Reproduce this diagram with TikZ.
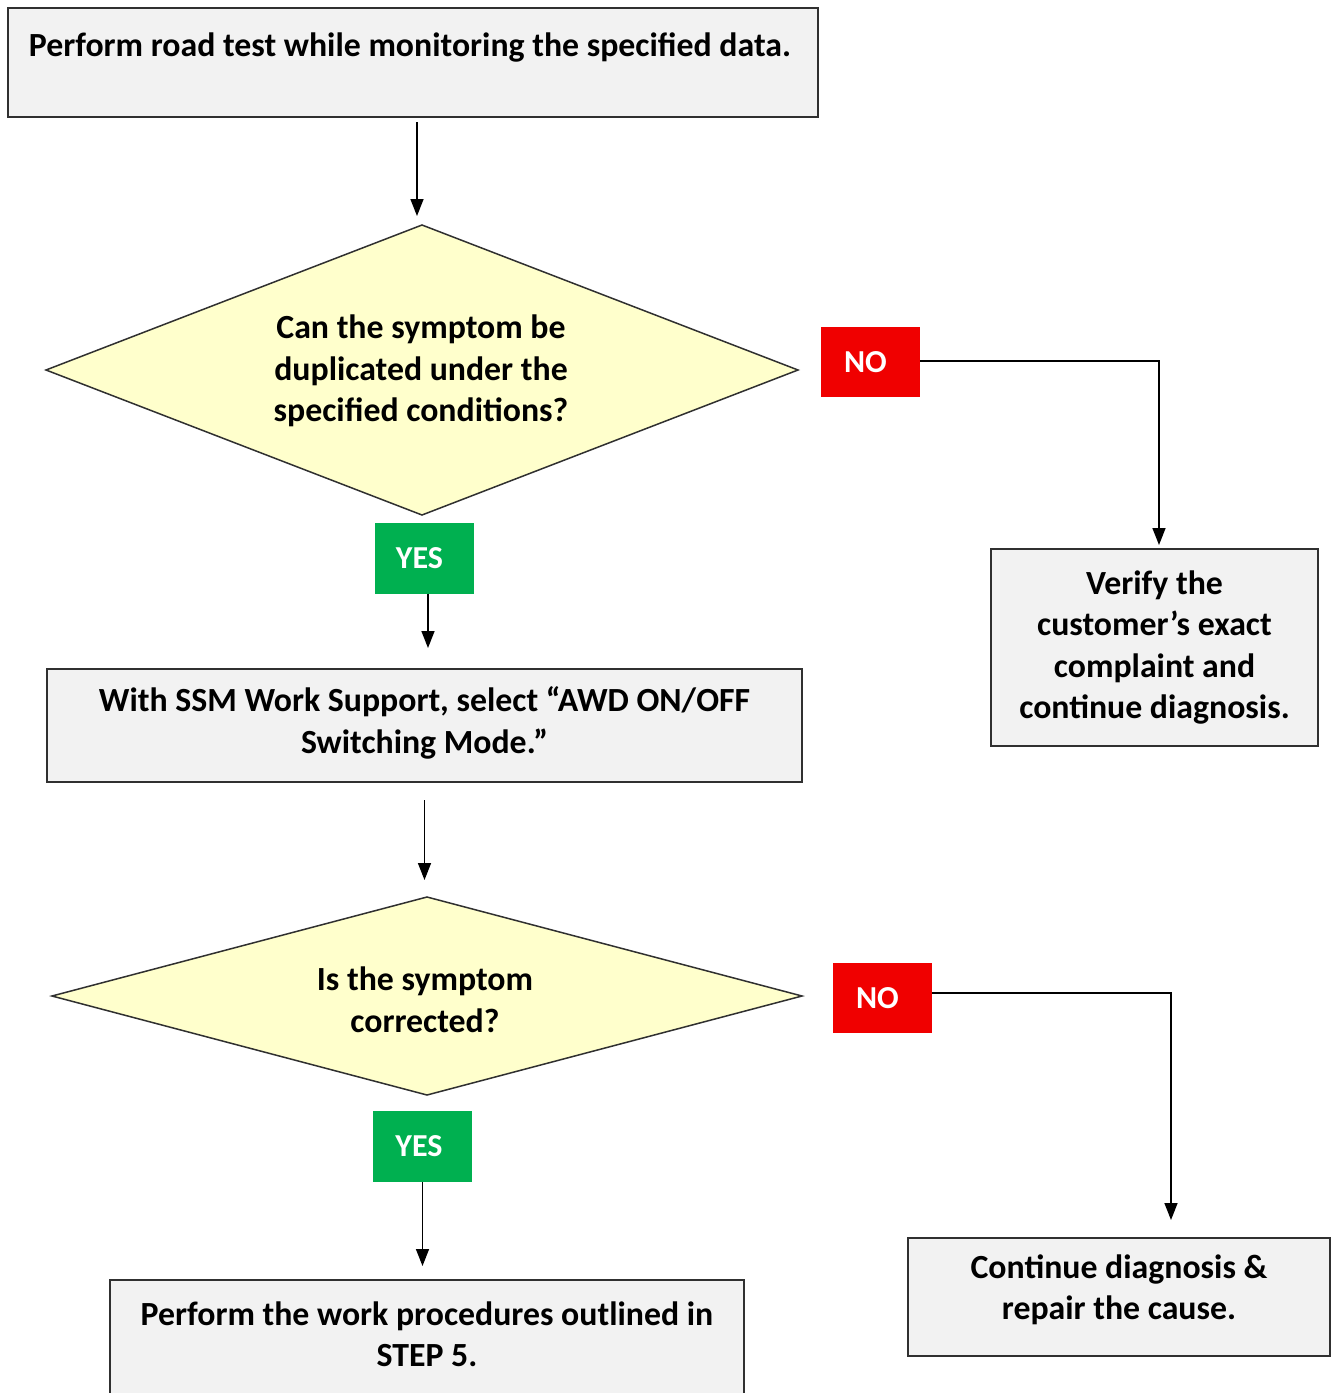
\documentclass[tikz,border=0pt]{standalone}
\usepackage{fontspec}
\setmainfont{Carlito}
\usetikzlibrary{shapes.geometric,arrows.meta}
\definecolor{boxfill}{HTML}{F2F2F2}
\definecolor{dfill}{HTML}{FFFFCC}
\definecolor{nored}{HTML}{F00000}
\definecolor{yesgreen}{HTML}{00B050}
\definecolor{edge}{HTML}{303030}
\tikzset{
  box/.style={draw=edge, line width=2pt, fill=boxfill, inner sep=0pt, outer sep=0pt},
  txt/.style={align=center, inner sep=0pt, font=\fontsize{33.8}{41.5}\selectfont\bfseries},
  dia/.style={diamond, draw=edge, line width=1.5pt, fill=dfill, inner sep=0pt, outer sep=0pt, aspect=2.6},
  tagno/.style={fill=nored, text=white, minimum width=99pt, minimum height=70pt, inner sep=0pt, font=\fontsize{32}{38}\selectfont\bfseries},
  tagyes/.style={fill=yesgreen, text=white, minimum width=99pt, minimum height=71pt, inner sep=0pt, font=\fontsize{32}{38}\selectfont\bfseries},
  arr/.style={draw=black, line width=1.5pt, -{Triangle[width=13pt,length=17pt]}},
}
\begin{document}
\begin{tikzpicture}[x=1pt,y=-1pt]
\useasboundingbox (0,0) rectangle (1331,1393);
\fill[white] (0,0) rectangle (1331,1393);
% box 1
\node[box, minimum width=810pt, minimum height=109pt] (b1) at (413,62.5) {};
\node[txt] (t1) at (410,47) {Perform road test while monitoring the specified data.};
% diamond 1
\node[dia, minimum width=752pt, minimum height=290pt] (d1) at (422,370) {};
\node[txt] (td1) at (421,371) {Can the symptom be\\duplicated under the\\specified conditions?};
\node[tagno] (no1) at (870.5,362) {NO\kern10pt};
\node[tagyes] (yes1) at (424.5,558) {YES\kern10pt};
% verify box
\node[box, minimum width=327pt, minimum height=197pt, txt] (v) at (1154.5,647.5) {Verify the\\customer’s exact\\complaint and\\continue diagnosis.};
% SSM box
\node[box, minimum width=755pt, minimum height=113pt] (ssm) at (424.5,725.5) {};
\node[txt] (tssm) at (424.5,723) {With SSM Work Support, select “AWD ON/OFF\\Switching Mode.”};
% diamond 2
\node[dia, minimum width=750pt, minimum height=198pt, aspect=3.8] (d2) at (427,996) {};
\node[txt] (td2) at (425,1000) {Is the symptom\\corrected?};
\node[tagno] (no2) at (882.5,998) {NO\kern10pt};
\node[tagyes] (yes2) at (422.5,1146.5) {YES\kern7pt};
% continue box
\node[box, minimum width=422pt, minimum height=118pt] (cont) at (1119,1297) {};
\node[txt] (tcont) at (1119,1290) {Continue diagnosis \&\\repair the cause.};
% perform box (cut off at bottom)
\node[box, minimum width=634pt, minimum height=130pt, anchor=north] (perf) at (427,1280) {};
\node[txt] (tperf) at (427,1334) {Perform the work procedures outlined in\\STEP 5.};
% connectors
\draw[arr, shorten <=5pt, shorten >=9pt] (b1.south -| 417,0) -- (d1.north -| 417,0);
\coordinate (c1) at (1159,361);
\draw[arr, shorten >=4pt] (no1.east |- c1) -- (c1) -- (c1 |- v.north);
\draw[arr, shorten >=21pt] (yes1.south -| 428,0) -- (ssm.north -| 428,0);
\draw[arr, shorten <=18pt, shorten >=17pt] (ssm.south) -- (d2.north -| ssm.south);
\coordinate (c2) at (1171,993);
\draw[arr, shorten >=18pt] (no2.east |- c2) -- (c2) -- (c2 |- cont.north);
\draw[arr, shorten >=14pt] (yes2.south) -- (perf.north -| yes2.south);
\end{tikzpicture}
\end{document}
